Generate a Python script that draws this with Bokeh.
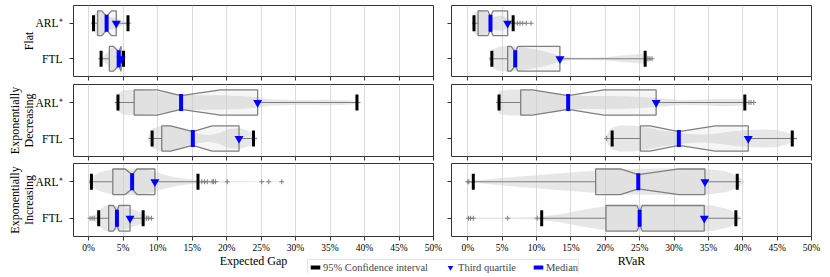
import math
from bokeh.plotting import figure
from bokeh.models import Range1d, FixedTicker, Legend, LegendItem
from bokeh.layouts import column, row
from bokeh.embed import file_html
from bokeh.resources import INLINE

# ---------------- data (values in percent) ----------------
categories = ["ARL⁺", "FTL"]
cat_pos = [0, 1]
patterns = ["Flat", "Exponentially\nDecreasing", "Exponentially\nIncreasing"]
metrics = ["Expected Gap", "RVaR"]
x_ticks = [0, 5, 10, 15, 20, 25, 30, 35, 40, 45, 50]
x_tick_labels = ["0%", "5%", "10%", "15%", "20%", "25%", "30%", "35%", "40%", "45%", "50%"]
legend_labels = ["95% Confidence interval", "Third quartile", "Median"]

# order: Flat-ARL, Flat-FTL, Dec-ARL, Dec-FTL, Inc-ARL, Inc-FTL
gap_whisker_lo = [0.35, 1.4, 3.8, 8.7, 0.05, 1.0]
gap_ci_lo = [0.7, 1.8, 4.25, 9.2, 0.4, 1.45]
gap_q1 = [1.3, 3.0, 6.6, 10.6, 3.5, 2.9]
gap_notch_lo = [1.9, 3.6, 9.9, 11.9, 5.3, 3.6]
gap_median = [2.6, 4.35, 13.4, 15.1, 6.3, 4.1]
gap_notch_hi = [3.3, 4.7, 19.1, 17.9, 7.0, 4.4]
gap_q3 = [4.0, 4.7, 24.5, 21.8, 9.6, 6.0]
gap_ci_hi = [5.7, 5.05, 38.9, 23.9, 15.85, 7.9]
gap_whisker_hi = [6.1, 5.3, 39.4, 24.4, 16.0, 8.1]
gap_fliers = [[], [], [], [],
              [16.4, 16.8, 17.2, 17.9, 18.1, 18.4, 20.1, 25.1, 26.1, 28.0],
              [0.2, 0.5, 0.8, 8.4, 8.7, 9.1]]
gap_violin_x = [
    [0.3, 0.7, 1.2, 2.0, 2.7, 3.4, 4.0, 4.8, 5.6, 6.2],
    [1.4, 2.0, 2.8, 3.3, 3.9, 4.4, 4.8, 5.3],
    [3.8, 4.3, 5.0, 7.0, 9.0, 11.0, 13.4, 16.0, 19.0, 22.0, 24.5, 26.0, 29.0, 32.0, 35.0, 37.5, 39.5],
    [8.6, 9.2, 10.5, 12.5, 14.5, 16.0, 17.5, 19.0, 20.5, 22.0, 23.5, 24.5],
    [-0.1, 0.5, 1.5, 3.0, 5.0, 7.0, 9.0, 10.5, 12.0, 14.0, 16.0, 18.0, 20.0, 23.0, 26.0, 28.0],
    [-0.1, 0.5, 1.0, 1.6, 2.4, 3.2, 4.0, 5.0, 6.0, 7.0, 8.0, 8.8, 9.3],
]
gap_violin_w = [
    [0.05, 0.6, 0.95, 0.85, 0.5, 0.45, 0.45, 0.2, 0.08, 0.02],
    [0.03, 0.15, 0.5, 0.9, 0.9, 0.7, 0.5, 0.05],
    [0.1, 0.7, 0.95, 1.0, 0.9, 0.75, 0.6, 0.55, 0.55, 0.5, 0.4, 0.25, 0.2, 0.2, 0.22, 0.18, 0.03],
    [0.1, 0.75, 0.98, 0.95, 0.65, 0.35, 0.25, 0.45, 0.75, 0.8, 0.55, 0.05],
    [0.05, 0.4, 0.7, 0.92, 1.0, 1.0, 0.85, 0.6, 0.4, 0.22, 0.12, 0.08, 0.06, 0.04, 0.04, 0.02],
    [0.02, 0.12, 0.3, 0.65, 0.95, 1.0, 0.95, 0.85, 0.75, 0.55, 0.35, 0.15, 0.02],
]

rvar_whisker_lo = [0.6, 3.1, 4.1, 20.6, 0.3, 10.4]
rvar_ci_lo = [0.9, 3.5, 4.55, 21.0, 0.8, 10.75]
rvar_q1 = [1.5, 5.8, 7.7, 25.1, 18.6, 20.1]
rvar_notch_lo = [2.9, 6.3, 9.4, 26.5, 22.2, 24.6]
rvar_median = [3.3, 6.9, 14.6, 30.7, 24.8, 25.0]
rvar_notch_hi = [3.7, 7.3, 19.8, 36.0, 30.7, 25.4]
rvar_q3 = [5.8, 13.4, 27.4, 40.8, 34.5, 34.4]
rvar_ci_hi = [6.6, 25.8, 40.3, 47.2, 39.2, 39.0]
rvar_whisker_hi = [6.9, 26.0, 40.6, 47.9, 39.7, 39.7]
rvar_fliers = [[7.2, 7.6, 8.0, 8.5, 9.2], [26.2, 26.5, 26.8], [40.9, 41.2, 41.6],
               [20.2], [0.0, 0.15], [0.1, 0.4, 0.8, 5.8, 10.1]]
rvar_violin_x = [
    [0.6, 0.9, 1.5, 2.5, 3.1, 3.5, 4.2, 5.0, 5.8, 6.5, 7.5, 9.2],
    [3.1, 3.6, 4.5, 6.0, 7.5, 9.0, 11.0, 13.0, 15.0, 17.5, 20.0, 22.5, 24.5, 25.8, 26.8],
    [4.1, 4.6, 6.0, 8.0, 10.0, 12.5, 14.6, 17.0, 20.0, 23.0, 26.0, 28.5, 31.0, 34.0, 37.0, 40.0, 41.6],
    [20.0, 20.8, 22.0, 24.0, 26.0, 28.5, 30.7, 32.5, 34.5, 36.5, 38.5, 40.8, 43.0, 45.0, 46.5, 47.9],
    [-0.2, 1.0, 3.0, 5.0, 7.5, 10.0, 12.5, 15.0, 17.5, 20.0, 25.0, 30.0, 35.0, 37.5, 39.2, 40.2],
    [-0.2, 1.0, 3.0, 6.0, 9.0, 11.0, 13.5, 16.4, 19.3, 21.0, 25.0, 30.0, 34.4, 35.8, 38.2, 39.7],
]
rvar_violin_w = [
    [0.1, 0.8, 1.0, 0.95, 0.65, 0.45, 0.55, 0.6, 0.4, 0.15, 0.05, 0.02],
    [0.1, 0.7, 0.95, 1.0, 0.95, 0.8, 0.6, 0.3, 0.1, 0.07, 0.12, 0.25, 0.35, 0.4, 0.05],
    [0.1, 0.9, 1.0, 1.0, 0.9, 0.75, 0.6, 0.5, 0.5, 0.48, 0.4, 0.3, 0.2, 0.22, 0.28, 0.25, 0.03],
    [0.1, 0.8, 1.0, 1.0, 0.85, 0.6, 0.45, 0.32, 0.3, 0.4, 0.55, 0.65, 0.7, 0.65, 0.45, 0.05],
    [0.05, 0.1, 0.17, 0.28, 0.4, 0.5, 0.6, 0.7, 0.8, 0.92, 0.98, 1.0, 0.95, 0.8, 0.45, 0.05],
    [0.05, 0.06, 0.06, 0.06, 0.08, 0.15, 0.3, 0.6, 0.85, 0.98, 1.0, 1.0, 1.0, 0.95, 0.65, 0.05],
]

DATA = {
    "gap": dict(wlo=gap_whisker_lo, clo=gap_ci_lo, q1=gap_q1, nlo=gap_notch_lo, med=gap_median,
                nhi=gap_notch_hi, q3=gap_q3, chi=gap_ci_hi, whi=gap_whisker_hi, fl=gap_fliers,
                vx=gap_violin_x, vw=gap_violin_w),
    "rvar": dict(wlo=rvar_whisker_lo, clo=rvar_ci_lo, q1=rvar_q1, nlo=rvar_notch_lo, med=rvar_median,
                 nhi=rvar_notch_hi, q3=rvar_q3, chi=rvar_ci_hi, whi=rvar_whisker_hi, fl=rvar_fliers,
                 vx=rvar_violin_x, vw=rvar_violin_w),
}
METRIC_KEYS = ["gap", "rvar"]

# ---------------- styling ----------------
SERIF = "Liberation Serif"
VW = 0.36      # violin max half-width (y units)
BH = 0.35      # box half-height
NOTCH = 0.55   # notch depth factor
X_START = {"gap": -2.2, "rvar": -2.37}
FRAME_H = [71, 72, 73]
GRAY = "#7f7f7f"


def panel(mi, k):
    m = METRIC_KEYS[mi]
    d = DATA[m]
    first_col = mi == 0
    last_row = k == 2
    p = figure(frame_width=360, frame_height=FRAME_H[k],
               x_range=Range1d(X_START[m], 50), y_range=Range1d(1.5, -0.5),
               output_backend="svg", toolbar_location=None,
               min_border_top=1, min_border_bottom=(0 if last_row else (7 if k == 0 else 6)),
               min_border_left=(73 if first_col else 9), min_border_right=(9 if first_col else 10),
               background_fill_color="white", border_fill_color="white")
    p.outline_line_color = "#333333"
    p.outline_line_width = 1

    # axes
    p.xaxis.ticker = FixedTicker(ticks=x_ticks)
    p.yaxis.ticker = FixedTicker(ticks=cat_pos)
    for ax in (p.xaxis[0], p.yaxis[0]):
        ax.axis_line_color = None
        ax.major_tick_in = 0
        ax.major_tick_out = 4
        ax.minor_tick_line_color = None
        ax.major_tick_line_color = "#333333"
        ax.major_label_text_font = SERIF
        ax.axis_label_text_font = SERIF
        ax.axis_label_text_font_style = "normal"
        ax.axis_label_text_font_size = "12px"
        ax.axis_label_text_color = "black"
        ax.major_label_text_color = "black"
    if last_row:
        p.xaxis.major_label_overrides = {t: l for t, l in zip(x_ticks, x_tick_labels)}
        p.xaxis.major_label_text_font_size = "9.5px"
        p.xaxis.major_label_standoff = 2
        p.xaxis.axis_label = metrics[mi]
        p.xaxis.axis_label_standoff = -2
    else:
        p.xaxis.major_label_overrides = {t: "" for t in x_ticks}
        p.xaxis.major_label_text_font_size = "1px"
        p.xaxis.major_label_standoff = 0
    if first_col:
        p.yaxis.major_label_overrides = {c: l for c, l in zip(cat_pos, categories)}
        p.yaxis.major_label_text_font_size = "11.5px"
        p.yaxis.major_label_standoff = 7
        p.yaxis.axis_label = patterns[k]
        p.yaxis.axis_label_standoff = -3
        p.yaxis.axis_label_text_line_height = 0.95
    else:
        p.yaxis.major_label_overrides = {c: "" for c in cat_pos}
        p.yaxis.major_label_text_font_size = "1px"
        p.yaxis.major_label_standoff = 0

    p.xgrid.ticker = FixedTicker(ticks=x_ticks)
    p.xgrid.grid_line_color = "#dadada"
    p.xgrid.grid_line_width = 1
    p.ygrid.grid_line_color = None

    sel = [2 * k, 2 * k + 1]
    ys = cat_pos

    # violins
    vxs, vys = [], []
    for j, s in enumerate(sel):
        x = d["vx"][s]
        w = d["vw"][s]
        y = ys[j]
        vxs.append(list(x) + list(x[::-1]))
        vys.append([y - VW * v for v in w] + [y + VW * v for v in w[::-1]])
    p.patches(vxs, vys, fill_color="#d4d4d4", fill_alpha=0.55, line_color=None)

    # notched boxes
    bxs, bys = [], []
    for j, s in enumerate(sel):
        y = ys[j]
        q1, nlo, med, nhi, q3 = d["q1"][s], d["nlo"][s], d["med"][s], d["nhi"][s], d["q3"][s]
        bxs.append([q1, nlo, med, nhi, q3, q3, nhi, med, nlo, q1])
        bys.append([y - BH, y - BH, y - BH * NOTCH, y - BH, y - BH,
                    y + BH, y + BH, y + BH * NOTCH, y + BH, y + BH])
    p.patches(bxs, bys, fill_color="#c4c4c4", fill_alpha=0.15, line_color=GRAY, line_width=1.3)

    # whiskers
    x0 = [d["wlo"][s] for s in sel] + [d["q3"][s] for s in sel]
    x1 = [d["q1"][s] for s in sel] + [d["whi"][s] for s in sel]
    yy = ys + ys
    p.segment(x0=x0, y0=yy, x1=x1, y1=yy, line_color=GRAY, line_width=1.2)

    # fliers
    fx, fy = [], []
    for j, s in enumerate(sel):
        for v in d["fl"][s]:
            fx.append(v)
            fy.append(ys[j])
    p.scatter(fx, fy, marker="cross", size=5, line_color=GRAY, line_width=1)

    # 95% CI bars
    cx = [d["clo"][s] for s in sel] + [d["chi"][s] for s in sel]
    p.rect(x=cx, y=yy, width=3, height=16, width_units="screen", height_units="screen",
           fill_color="black", line_color=None)
    # medians
    p.rect(x=[d["med"][s] for s in sel], y=ys, width=4, height=17,
           width_units="screen", height_units="screen", fill_color="#0000ff", line_color=None)
    # third quartiles
    p.scatter([d["q3"][s] for s in sel], ys, marker="inverted_triangle", size=9,
              fill_color="#0000ff", line_color=None)
    return p


rows = []
for k in range(3):
    rows.append(row(panel(0, k), panel(1, k)))

# legend figure (proxy renderers are hidden; only the legend is shown)
lf = figure(width=285, height=14, x_range=Range1d(0, 1), y_range=Range1d(0, 1),
            toolbar_location=None, output_backend="svg", min_border=0,
            x_axis_location=None, y_axis_location=None,
            outline_line_color=None, background_fill_alpha=0, border_fill_alpha=0)
lf.grid.visible = False
r_ci = lf.scatter(x=[0.5], y=[0.5], marker="dash", angle=math.pi / 2, size=6,
                  line_color="black", line_width=4, line_cap="square", visible=False)
r_q3 = lf.scatter(x=[0.5], y=[0.5], marker="inverted_triangle", size=6,
                  fill_color="#0000ff", line_color=None, visible=False)
r_med = lf.scatter(x=[0.5], y=[0.5], marker="dash", angle=math.pi / 2, size=6,
                   line_color="#0000ff", line_width=4, line_cap="square", visible=False)
legend = Legend(items=[LegendItem(label=legend_labels[0], renderers=[r_ci]),
                       LegendItem(label=legend_labels[1], renderers=[r_q3]),
                       LegendItem(label=legend_labels[2], renderers=[r_med])],
                orientation="horizontal", location="top_left", margin=0, padding=0,
                glyph_width=14, glyph_height=14, label_standoff=1, spacing=15,
                label_text_font=SERIF, label_text_font_size="10.5px", label_height=10,
                border_line_color="#c8c8c8", border_line_width=1,
                background_fill_color="white", background_fill_alpha=0.9)
lf.add_layout(legend)
lf.margin = (-11, 0, 0, 307)

layout = column(rows[0], rows[1], rows[2], lf, margin=(4, 0, 0, 0), spacing=0)

open("out.html", "w").write(file_html(layout, INLINE))
